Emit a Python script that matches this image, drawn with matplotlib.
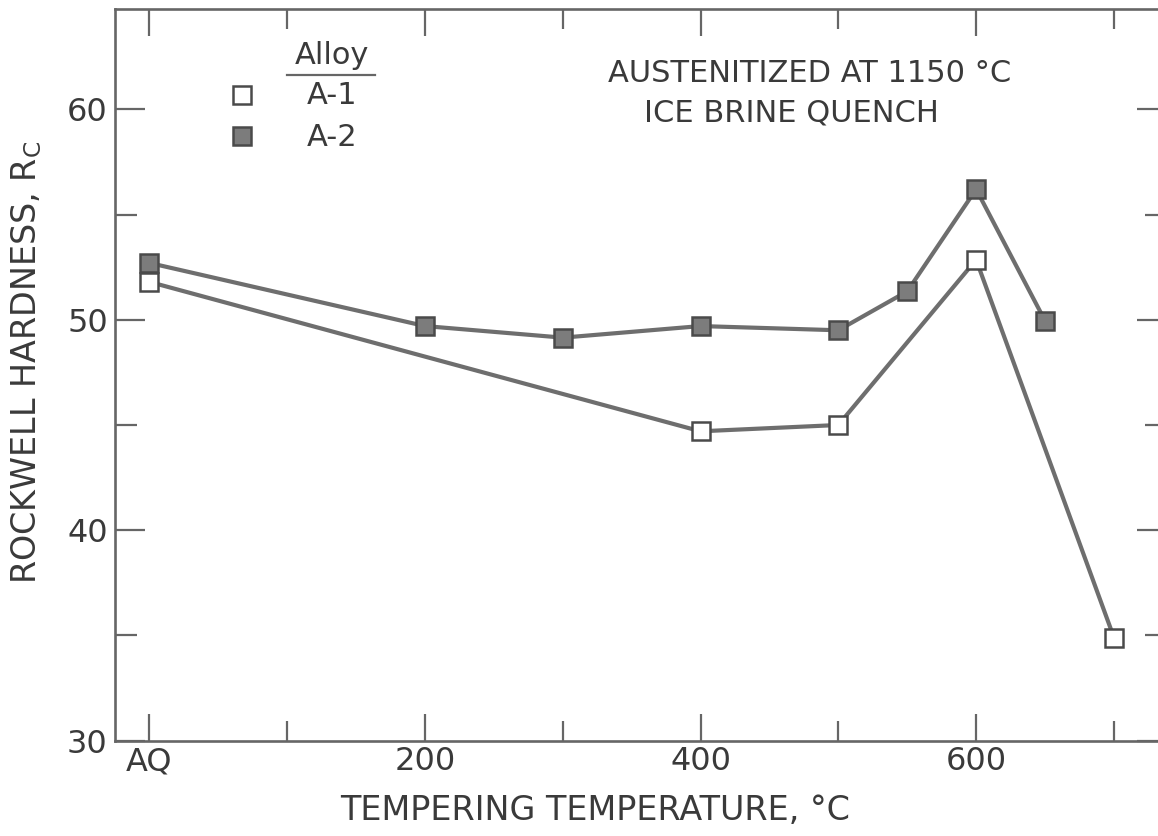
import matplotlib
matplotlib.use("Agg")
import matplotlib.pyplot as plt
from matplotlib.ticker import FixedLocator, FixedFormatter

# ---- data ----
a1_temp = [0, 400, 500, 600, 700]
a1_hard = [51.8, 44.7, 45.0, 52.85, 34.9]

a2_temp = [0, 200, 300, 400, 500, 550, 600, 650]
a2_hard = [52.7, 49.7, 49.15, 49.7, 49.5, 51.35, 56.2, 49.95]

series_names = ["A-1", "A-2"]
legend_title = "Alloy"

x_major = [0, 200, 400, 600]
x_major_labels = ["AQ", "200", "400", "600"]
x_minor = [100, 300, 500, 700]
y_major = [30, 40, 50, 60]
y_minor = [35, 45, 55]

note_lines = ["AUSTENITIZED AT 1150 °C", "ICE BRINE QUENCH"]
x_label = "TEMPERING TEMPERATURE, °C"
y_label = r"ROCKWELL HARDNESS, R$_\mathregular{C}$"

# ---- style ----
TXT = "#3a3a3a"
AX = "#666666"
LINE = "#6e6e6e"
EDGE = "#4a4a4a"
FILL = "#7c7c7c"
FS = 22

plt.rcParams["font.family"] = ["DejaVu Sans"]

fig = plt.figure(figsize=(11.58, 8.36), dpi=100)
W, H = 1158, 836
# axes box in pixels: left 114.7, right 1167, top 9.3, bottom 740.7
L, R, T, B = 114.7, 1167.0, 9.3, 740.7
ax = fig.add_axes([L / W, (H - B) / H, (R - L) / W, (B - T) / H])

ax.plot(a1_temp, a1_hard, color=LINE, lw=3.0, marker="s", ms=12.5,
        mfc="white", mec=EDGE, mew=1.8, zorder=3)
ax.plot(a2_temp, a2_hard, color=LINE, lw=3.0, marker="s", ms=12.5,
        mfc=FILL, mec=EDGE, mew=1.8, zorder=4)

ax.set_xlim(-25.1, 738.5)
ax.set_ylim(30, 64.75)

ax.xaxis.set_major_locator(FixedLocator(x_major))
ax.xaxis.set_major_formatter(FixedFormatter(x_major_labels))
ax.xaxis.set_minor_locator(FixedLocator(x_minor))
ax.yaxis.set_major_locator(FixedLocator(y_major))
ax.yaxis.set_minor_locator(FixedLocator(y_minor))

ax.tick_params(axis="x", which="major", direction="in", length=19.5, width=1.6,
               color=AX, top=True, bottom=True, labelsize=23, labelcolor=TXT, pad=4)
ax.tick_params(axis="x", which="minor", direction="in", length=14.5, width=1.6,
               color=AX, top=True, bottom=True)
ax.tick_params(axis="y", which="major", direction="in", length=21.5, width=1.6,
               color=AX, left=True, right=True, labelsize=23, labelcolor=TXT, pad=5)
ax.tick_params(axis="y", which="minor", direction="in", length=15.5, width=1.6,
               color=AX, left=True, right=True)

for s in ax.spines.values():
    s.set_color(AX)
    s.set_linewidth(1.9)

# axis titles
fig.text(595 / W, 1 - 810 / H, x_label, ha="center", va="center",
         fontsize=24, color=TXT)
fig.text(27 / W, 1 - 362 / H, y_label, ha="center", va="center",
         rotation=90, fontsize=24, color=TXT)


def axf(px, py):
    return (px - L) / (R - L), (B - py) / (B - T)


# annotation
for line, (px, py) in zip(note_lines, [(810, 74), (791.5, 113)]):
    xx, yy = axf(px, py)
    ax.text(xx, yy, line, transform=ax.transAxes, ha="center", va="center",
            fontsize=FS, color=TXT)

# legend (manual)
tx, ty = axf(332, 56)
ax.text(tx, ty, legend_title, transform=ax.transAxes, ha="center",
        va="center", fontsize=FS, color=TXT)
u0 = axf(287, 75)
u1 = axf(375, 75)
ax.plot([u0[0], u1[0]], [u0[1], u1[1]], transform=ax.transAxes,
        color=AX, lw=1.6, clip_on=False)
styles = [dict(mfc="white"), dict(mfc=FILL)]
for name, st, py in zip(series_names, styles, [95, 136]):
    mx, my = axf(241.7, py)
    ax.plot([mx], [my], transform=ax.transAxes, marker="s", ms=12.5,
            mec=EDGE, mew=1.8, ls="none", clip_on=False, **st)
    lx, ly = axf(332, py + 1)
    ax.text(lx, ly, name, transform=ax.transAxes, ha="center", va="center",
            fontsize=FS, color=TXT)

fig.savefig("out.png", dpi=100)
